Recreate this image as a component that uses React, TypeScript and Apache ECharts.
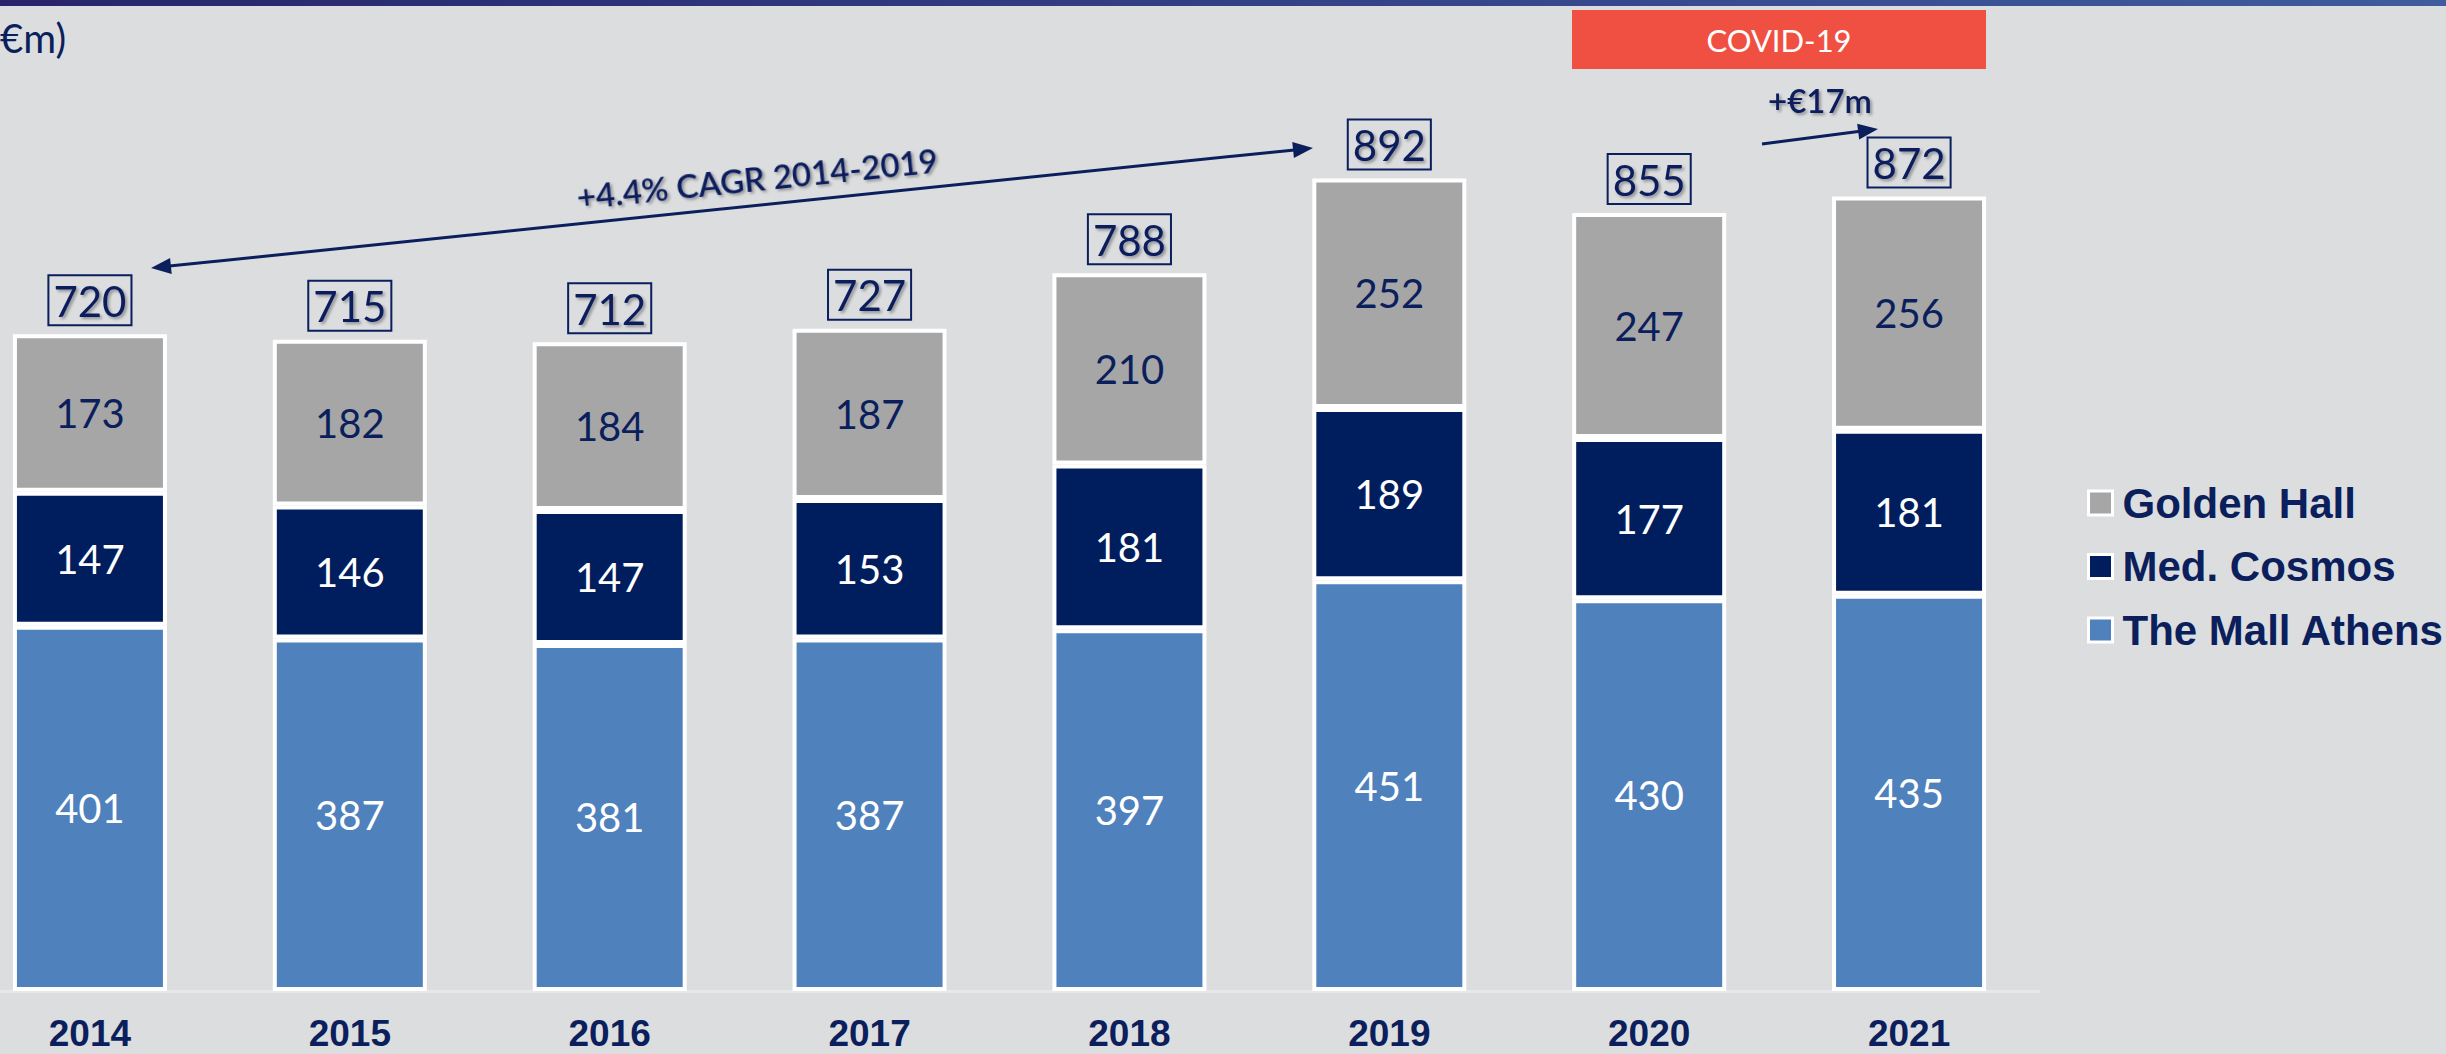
import React, { useEffect, useRef } from "react";
import * as echarts from "echarts";

const years = ["2014", "2015", "2016", "2017", "2018", "2019", "2020", "2021"];
const mallAthens = [401, 387, 381, 387, 397, 451, 430, 435];
const medCosmos = [147, 146, 147, 153, 181, 189, 177, 181];
const goldenHall = [173, 182, 184, 187, 210, 252, 247, 256];
const totals = [720, 715, 712, 727, 788, 892, 855, 872];
const zeros = [0, 0, 0, 0, 0, 0, 0, 0];

const NAVY_TEXT = "#0A1F5C";
const NAVY_BAR = "#001E5E";
const GRAY_BAR = "#A6A6A6";
const BLUE_BAR = "#4F81BD";
const BG = "#DCDDDF";
const FONT = "Lato, 'Open Sans', sans-serif";
const OFF = 40; // chart div is shifted left by this amount

function arrowHead(x1: number, y1: number, x2: number, y2: number, len = 20, half = 8) {
  const dx = x2 - x1;
  const dy = y2 - y1;
  const d = Math.sqrt(dx * dx + dy * dy);
  const ux = dx / d;
  const uy = dy / d;
  const bx = x2 - ux * len;
  const by = y2 - uy * len;
  return [
    [x2, y2],
    [bx - uy * half, by + ux * half],
    [bx + uy * half, by - ux * half],
  ];
}

function shortenEnd(x1: number, y1: number, x2: number, y2: number, s: number) {
  const dx = x2 - x1;
  const dy = y2 - y1;
  const d = Math.sqrt(dx * dx + dy * dy);
  return [x2 - (dx / d) * s, y2 - (dy / d) * s];
}

export default function App() {
  const ref = useRef<HTMLDivElement>(null);

  useEffect(() => {
    if (!ref.current) return;
    const chart = echarts.init(ref.current, null, { renderer: "svg" });

    const segLabel = (color: string) => ({
      show: true,
      position: "inside" as const,
      color,
      fontFamily: FONT,
      fontSize: 40,
    });

    const itemBorder = { borderColor: "#FFFFFF", borderWidth: 4 };

    const cA = [151 + OFF, 268];
    const cB = [1313 + OFF, 148];
    const cAs = shortenEnd(cB[0], cB[1], cA[0], cA[1], 16);
    const cBs = shortenEnd(cA[0], cA[1], cB[0], cB[1], 16);
    const pA = [1762 + OFF, 144];
    const pB = [1878 + OFF, 129];
    const pBs = shortenEnd(pA[0], pA[1], pB[0], pB[1], 16);

    const textShadow = {
      textShadowColor: "rgba(0,0,0,0.35)",
      textShadowBlur: 3,
      textShadowOffsetX: 2,
      textShadowOffsetY: 2,
    };

    chart.setOption({
      animation: false,
      backgroundColor: BG,
      grid: { left: 0, right: 407, top: 80, bottom: 63, containLabel: false },
      legend: {
        orient: "vertical",
        left: 2082 + OFF,
        top: 476,
        itemWidth: 24,
        itemHeight: 24,
        itemGap: 19.5,
        icon: "rect",
        data: ["Golden Hall", "Med. Cosmos", "The Mall Athens"],
        itemStyle: { borderColor: "#FFFFFF", borderWidth: 3 },
        textStyle: {
          color: NAVY_TEXT,
          fontFamily: "'Liberation Sans', Arial, sans-serif",
          fontWeight: "bold",
          fontSize: 42,
          lineHeight: 44,
          padding: [0, 0, 0, 5],
        },
      },
      xAxis: {
        type: "category",
        data: years,
        axisLine: { show: true, lineStyle: { color: "#E7E8EB", width: 3 } },
        axisTick: { show: false },
        axisLabel: {
          color: NAVY_TEXT,
          fontFamily: "'Liberation Sans', Arial, sans-serif",
          fontWeight: "bold",
          fontSize: 37,
          lineHeight: 37,
          margin: 24,
        },
      },
      yAxis: { type: "value", min: 0, max: 1000, show: false, splitLine: { show: false } },
      series: [
        {
          name: "The Mall Athens",
          type: "bar",
          stack: "total",
          barWidth: 154,
          data: mallAthens,
          itemStyle: { color: BLUE_BAR, ...itemBorder },
          label: segLabel("#FFFFFF"),
        },
        {
          name: "Med. Cosmos",
          type: "bar",
          stack: "total",
          barWidth: 154,
          data: medCosmos,
          itemStyle: { color: NAVY_BAR, ...itemBorder },
          label: segLabel("#FFFFFF"),
        },
        {
          name: "Golden Hall",
          type: "bar",
          stack: "total",
          barWidth: 154,
          data: goldenHall,
          itemStyle: { color: GRAY_BAR, ...itemBorder },
          label: segLabel(NAVY_TEXT),
        },
        {
          name: "Total",
          type: "bar",
          stack: "total",
          barWidth: 154,
          data: zeros,
          itemStyle: { color: "transparent", borderWidth: 0 },
          label: {
            show: true,
            position: "top",
            distance: 9,
            formatter: (p: any) => String(totals[p.dataIndex]),
            color: NAVY_TEXT,
            fontFamily: FONT,
            fontSize: 42,
            lineHeight: 43,
            borderColor: NAVY_TEXT,
            borderWidth: 2,
            padding: [4, 5, 3, 5],
            ...textShadow,
          },
        },
      ],
      graphic: [
        {
          type: "rect",
          shape: { x: 0, y: 0, width: 2446 + OFF, height: 6 },
          style: {
            fill: new echarts.graphic.LinearGradient(0, 0, 1, 0, [
              { offset: 0, color: "#27236A" },
              { offset: 1, color: "#3F5C9E" },
            ]),
          },
        },
        {
          type: "text",
          x: OFF,
          y: 38,
          style: {
            text: "€m)",
            fill: NAVY_TEXT,
            font: `40px ${FONT}`,
            align: "left",
            verticalAlign: "middle",
          },
        },
        {
          type: "rect",
          shape: { x: 1572 + OFF, y: 10, width: 414, height: 59 },
          style: { fill: "#F05042" },
        },
        {
          type: "text",
          x: 1779 + OFF,
          y: 40,
          style: {
            text: "COVID-19",
            fill: "#FFFFFF",
            font: `31px ${FONT}`,
            align: "center",
            verticalAlign: "middle",
          },
        },
        {
          type: "text",
          x: 1820 + OFF,
          y: 100,
          style: {
            text: "+€17m",
            fill: NAVY_TEXT,
            font: `600 33px ${FONT}`,
            align: "center",
            verticalAlign: "middle",
            ...textShadow,
          },
        },
        {
          type: "line",
          shape: { x1: pA[0], y1: pA[1], x2: pBs[0], y2: pBs[1] },
          style: { stroke: NAVY_TEXT, lineWidth: 3 },
        },
        {
          type: "polygon",
          shape: { points: arrowHead(pA[0], pA[1], pB[0], pB[1]) },
          style: { fill: NAVY_TEXT },
        },
        {
          type: "line",
          shape: { x1: cAs[0], y1: cAs[1], x2: cBs[0], y2: cBs[1] },
          style: { stroke: NAVY_TEXT, lineWidth: 3 },
        },
        {
          type: "polygon",
          shape: { points: arrowHead(cA[0], cA[1], cB[0], cB[1]) },
          style: { fill: NAVY_TEXT },
        },
        {
          type: "polygon",
          shape: { points: arrowHead(cB[0], cB[1], cA[0], cA[1]) },
          style: { fill: NAVY_TEXT },
        },
        {
          type: "text",
          x: 757 + OFF,
          y: 178,
          rotation: 0.103,
          style: {
            text: "+4.4% CAGR 2014-2019",
            fill: NAVY_TEXT,
            font: `600 33px ${FONT}`,
            align: "center",
            verticalAlign: "middle",
            ...textShadow,
          },
        },
      ],
    });

    return () => {
      chart.dispose();
    };
  }, []);

  return (
    <div
      ref={ref}
      style={{
        position: "fixed",
        left: `-${OFF}px`,
        top: 0,
        width: `${2446 + OFF}px`,
        height: "1054px",
      }}
    />
  );
}
